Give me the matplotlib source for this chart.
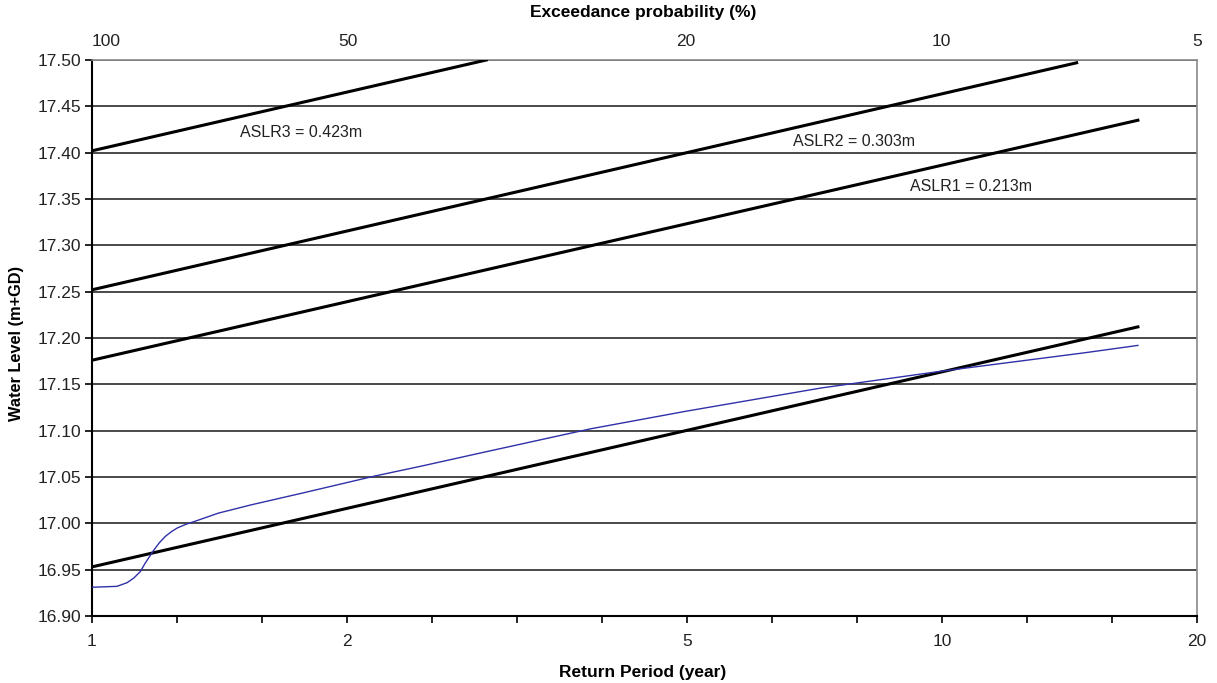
import numpy as np
import matplotlib
matplotlib.use('Agg')
import matplotlib.pyplot as plt

plt.rcParams['font.family'] = ['Liberation Sans', 'DejaVu Sans']

# data
# return period (year) vs water level (m+GD)
base_T = [1, 17]
base_level = [16.953, 17.212]
aslr1_T = [1, 17]
aslr1_level = [17.176, 17.435]
aslr2_T = [1, 14.4]
aslr2_level = [17.252, 17.497]
aslr3_T = [1, 2.91]
aslr3_level = [17.402, 17.500]

obs_T = [1.0, 1.07, 1.10, 1.12, 1.14, 1.155, 1.18, 1.20, 1.22, 1.24, 1.26, 1.29,
         1.32, 1.408, 1.54, 1.765, 2.15, 2.42, 2.9, 3.86, 5.0, 7.2, 9.95, 14.7, 17.0]
obs_level = [16.931, 16.932, 16.936, 16.941, 16.948, 16.957, 16.970, 16.979,
             16.986, 16.991, 16.995, 16.999, 17.002, 17.011, 17.020, 17.0325,
             17.051, 17.061, 17.077, 17.102, 17.121, 17.146, 17.164, 17.184, 17.192]

ret_labels = ['1', '2', '5', '10', '20']
exceed = [100, 50, 20, 10, 5]
y_ticks = np.round(np.arange(16.90, 17.501, 0.05), 2)

W, H = 1217, 683
fig = plt.figure(figsize=(W/100, H/100), dpi=100)
ax = fig.add_axes([92/W, 67/H, 1105/W, 556/H])

ax.set_xscale('log')
xmax = 10**1.3
ax.set_xlim(1, xmax)
ax.set_ylim(16.90, 17.50)

# horizontal gridlines
for yv in y_ticks:
    ax.axhline(yv, color='#2a2a2a', lw=1.2, zorder=1)

ax.plot(base_T, base_level, color='black', lw=2.2, zorder=3)
ax.plot(aslr1_T, aslr1_level, color='black', lw=2.2, zorder=3)
ax.plot(aslr2_T, aslr2_level, color='black', lw=2.2, zorder=3)
ax.plot(aslr3_T, aslr3_level, color='black', lw=2.2, zorder=3)
ax.plot(obs_T, obs_level, color='#3030a8', lw=1.0, zorder=4)

txt = dict(fontsize=11.5, color='#222222', ha='left', va='center', zorder=5)
ax.text(1.493, 17.4216, 'ASLR3 = 0.423m', **txt)
ax.text(6.68, 17.412, 'ASLR2 = 0.303m', **txt)
ax.text(9.17, 17.3636, 'ASLR1 = 0.213m', **txt)

# bottom axis: ticks every 0.1 decade, labels at 1,2,5,10,20
xt = 10**(np.arange(14)*0.1)
lab = [''] * 14
for i, k in enumerate([0, 3, 7, 10, 13]):
    lab[k] = ret_labels[i]
ax.set_xticks(xt)
ax.set_xticklabels(lab)
ax.xaxis.set_minor_locator(matplotlib.ticker.NullLocator())
ax.set_yticks(y_ticks)
ax.set_yticklabels(['%.2f' % v for v in y_ticks])
ax.tick_params(axis='both', direction='out', length=5, width=1.2,
               labelsize=12.5, colors='black', labelcolor='#222222')
ax.tick_params(axis='x', pad=8)
ax.tick_params(axis='y', pad=3)

for s in ['left', 'bottom']:
    ax.spines[s].set_color('black')
    ax.spines[s].set_linewidth(1.5)
for s in ['top', 'right']:
    ax.spines[s].set_color('#8a8a8a')
    ax.spines[s].set_linewidth(1.2)

# top axis: exceedance probability
top = ax.twiny()
top.set_xscale('log')
top.set_xlim(1, xmax)
top.set_xticks([100.0 / p for p in exceed])
top.set_xticklabels([str(p) for p in exceed])
top.xaxis.set_minor_locator(matplotlib.ticker.NullLocator())
top.tick_params(axis='x', length=0, pad=8, labelsize=12.5, labelcolor='#222222')
top.get_xticklabels()[0].set_ha('left')
for s in top.spines.values():
    s.set_visible(False)

fig.text(643/W, 1 - 12/H, 'Exceedance probability (%)', fontsize=12.5,
         fontweight='bold', ha='center', va='center')
fig.text(643/W, 1 - 673/H, 'Return Period (year)', fontsize=12.5,
         fontweight='bold', ha='center', va='center')
fig.text(17/W, 1 - 343/H, 'Water Level (m+GD)', fontsize=11.8,
         fontweight='bold', ha='center', va='center', rotation=90)

fig.savefig('out.png', dpi=100)
